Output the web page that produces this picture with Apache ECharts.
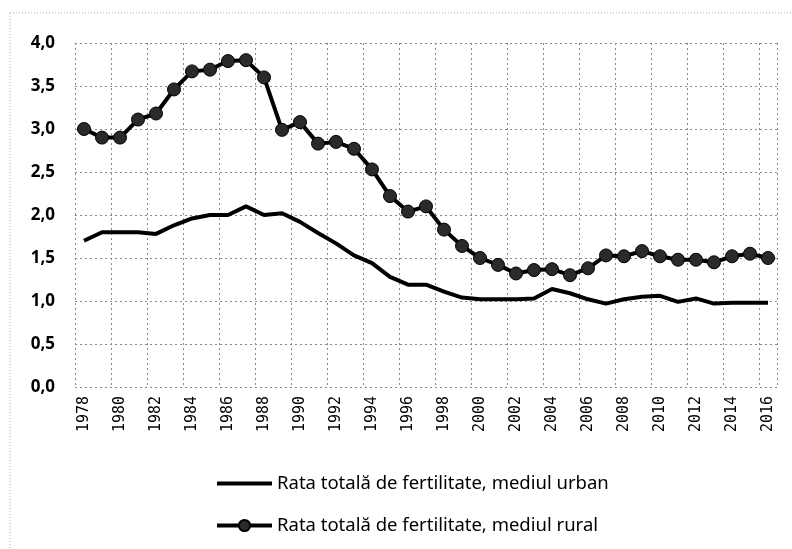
<!DOCTYPE html>
<html>
<head>
<meta charset="utf-8">
<script src="https://cdn.jsdelivr.net/npm/echarts@6/dist/echarts.min.js"></script>
<style>
html,body{margin:0;padding:0;background:#fff;}
#chart{width:792px;height:549px;}
</style>
</head>
<body>
<div id="chart"></div>
<script>
var years = ['1978','1979','1980','1981','1982','1983','1984','1985','1986','1987','1988','1989','1990','1991','1992','1993','1994','1995','1996','1997','1998','1999','2000','2001','2002','2003','2004','2005','2006','2007','2008','2009','2010','2011','2012','2013','2014','2015','2016'];
var urban = [1.70,1.80,1.80,1.80,1.78,1.88,1.96,2.00,2.00,2.10,2.00,2.02,1.92,1.79,1.67,1.53,1.44,1.28,1.19,1.19,1.11,1.04,1.02,1.02,1.02,1.03,1.14,1.09,1.02,0.97,1.02,1.05,1.06,0.99,1.03,0.97,0.98,0.98,0.98];
var rural = [3.00,2.90,2.90,3.11,3.18,3.46,3.67,3.69,3.79,3.80,3.60,2.99,3.08,2.83,2.85,2.77,2.53,2.22,2.04,2.10,1.83,1.64,1.50,1.42,1.32,1.36,1.37,1.30,1.38,1.53,1.52,1.58,1.52,1.48,1.48,1.45,1.52,1.55,1.50];
var seriesNames = ['Rata totală de fertilitate, mediul urban','Rata totală de fertilitate, mediul rural'];

var chart = echarts.init(document.getElementById('chart'), null, {renderer:'canvas'});
var gridStyle = {show:true, lineStyle:{color:'#8a8a8a', type:[2,3], width:1}};
chart.setOption({
  animation:false,
  backgroundColor:'#fff',
  graphic:[{
    type:'rect', shape:{x:10,y:13,width:800,height:600},
    style:{fill:'none', stroke:'#aaa', lineWidth:1, lineDash:[1,2]}, silent:true
  }],
  grid:{left:75, right:15, top:43, bottom:162, containLabel:false},
  legend:{
    orient:'vertical', left:215, top:474, padding:0, itemWidth:55, itemHeight:14, itemGap:23,
    textStyle:{fontFamily:'Noto Sans', fontSize:18.5, color:'#000'},
    lineStyle:{width:4, color:'#000'},
    data:[
      {name:seriesNames[0], itemStyle:{opacity:0}},
      {name:seriesNames[1]}
    ]
  },
  xAxis:{
    type:'category', data:years, boundaryGap:true,
    axisLine:{show:false}, axisTick:{show:false},
    axisLabel:{interval:1, rotate:90, margin:9, fontFamily:'DejaVu Sans Mono', fontSize:15, color:'#000'},
    splitLine:{show:true, interval:1, lineStyle:{color:'#8a8a8a', type:[2,3], width:1}}
  },
  yAxis:{
    type:'value', min:0, max:4, interval:0.5,
    axisLine:{show:false}, axisTick:{show:false},
    axisLabel:{margin:20, fontFamily:'Noto Sans', fontSize:17, fontWeight:'bold', color:'#000',
      formatter:function(v){return v.toFixed(1).replace('.', ',');}},
    splitLine:gridStyle
  },
  series:[
    {name:seriesNames[0], type:'line', data:urban, symbol:'none', smooth:false,
     lineStyle:{color:'#000', width:4}, itemStyle:{color:'#000'}},
    {name:seriesNames[1], type:'line', data:rural, symbol:'circle', symbolSize:13, showAllSymbol:true,
     lineStyle:{color:'#000', width:4}, itemStyle:{color:'#2a2a2a', borderColor:'#000', borderWidth:1}}
  ]
});
</script>
</body>
</html>
